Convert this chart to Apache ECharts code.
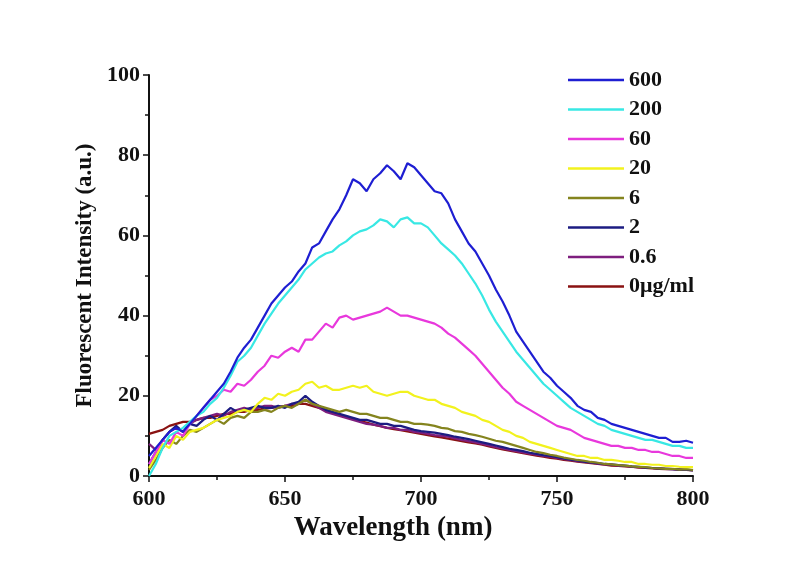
<!DOCTYPE html>
<html>
<head>
<meta charset="utf-8">
<script src="https://cdn.jsdelivr.net/npm/echarts@6/dist/echarts.min.js"></script>
<style>html,body{margin:0;padding:0;background:#fff}#c{width:790px;height:561px}</style>
</head>
<body>
<div id="c"></div>
<script>
const wavelengths = [600,602.5,605,607.5,610,612.5,615,617.5,620,622.5,625,627.5,630,632.5,635,637.5,640,642.5,645,647.5,650,652.5,655,657.5,660,662.5,665,667.5,670,672.5,675,677.5,680,682.5,685,687.5,690,692.5,695,697.5,700,702.5,705,707.5,710,712.5,715,717.5,720,722.5,725,727.5,730,732.5,735,737.5,740,742.5,745,747.5,750,752.5,755,757.5,760,762.5,765,767.5,770,772.5,775,777.5,780,782.5,785,787.5,790,792.5,795,797.5,800];

const seriesNames = ["600","200","60","20","6","2","0.6","0μg/ml"];

const s600 = [5,7,9,11,12,11,13,15,17,19,21,23,26,29.5,32,34,37,40,43,45,47,48.5,51,53,57,58,61,64,66.5,70,74,73,71,74,75.5,77.5,76,74,78,77,75,73,71,70.5,68,64,61,58,56,53,50,46.5,43.5,40,36,33.5,31,28.5,26,24.5,22.5,21,19.5,17.5,16.5,16,14.5,14,13,12.5,12,11.5,11,10.5,10,9.5,9.5,8.5,8.5,8.8,8.3];
const s200 = [0,3,7,10,11,12,13.5,15,16,18,19.5,22,25,28.5,30,32,35,38,40.5,43,45,47,49,51.5,53,54.5,55.5,56,57.5,58.5,60,61,61.5,62.5,64,63.5,62,64,64.5,63,63,62,60,58,56.5,55,53,50.5,48,45,41.5,38.5,36,33.5,31,29,27,25,23,21.5,20,18.5,17,16,15,14,13,12.5,11.5,11,10.5,10,9.5,9,9,8.5,8,7.5,7.5,7,7];
const s60 = [3,6,9,8,11,10,13,15,17,19,20,21.5,21,23,22.5,24,26,27.5,30,29.5,31,32,31,34,34,36,38,37,39.5,40,39,39.5,40,40.5,41,42,41,40,40,39.5,39,38.5,38,37,35.5,34.5,33,31.5,30,28,26,24,22,20.5,18.5,17.5,16.5,15.5,14.5,13.5,12.5,12,11.5,10.5,9.5,9,8.5,8,7.5,7.5,7,7,6.5,6.5,6,6,5.5,5,5,4.5,4.5];
const s20 = [2,5,8,7,10,9,11,11.5,12,13,14,14.5,15,16,16.5,16,18,19.5,19,20.5,20,21,21.5,23,23.5,22,22.5,21.5,21.5,22,22.5,22,22.5,21,20.5,20,20.5,21,21,20,19.5,19,19,18,17.5,17,16,15.5,15,14,13.5,12.5,11.5,11,10,9.5,8.5,8,7.5,7,6.5,6,5.5,5,5,4.5,4.5,4,4,3.8,3.5,3.5,3,3,2.8,2.8,2.5,2.5,2.3,2.2,2.2];
const s6 = [1.5,4,7,9,8,10,11.5,11,12,13,14,13,14.5,15,14.5,16,16,16.5,16,17,17.5,17,18,19,18,17.5,17,16.5,16,16.5,16,15.5,15.5,15,14.5,14.5,14,13.5,13.5,13,13,12.8,12.5,12,11.8,11.2,11,10.5,10.2,9.8,9.3,8.8,8.5,8,7.5,7,6.5,6,5.7,5.3,5,4.6,4.3,4,3.8,3.5,3.3,3,2.9,2.7,2.6,2.4,2.3,2.2,2,1.9,1.8,1.8,1.6,1.7,1.5];
const s2 = [3,6,9,11,12.5,11,13,12.5,14,15,14,15.5,17,16,16.5,17,17.5,17,17,17.5,17,18,18.5,20,18.5,17.5,16.5,16,15.5,15,14.5,14,14,13.5,13,13,12.5,12.5,12,11.5,11.2,11,10.8,10.5,10.2,9.8,9.5,9.2,8.8,8.4,8,7.6,7.2,6.8,6.5,6.2,5.8,5.5,5.2,5,4.7,4.4,4.1,3.9,3.6,3.4,3.2,3,2.9,2.7,2.6,2.4,2.3,2.1,2,1.9,1.8,1.7,1.6,1.6,1.4];
const s06 = [8,6.5,9,11,12,11,13,14,14.5,15,15.5,15,16,16.5,17,16.5,17,17.5,17.5,17,17.5,18,18,19,18,17,16,15.5,15,14.5,14,13.5,13,12.8,12.5,12,12,11.5,11.5,11,10.8,10.5,10.2,10,9.8,9.4,9,8.7,8.4,8,7.6,7.2,6.9,6.5,6.2,5.9,5.6,5.3,5,4.8,4.5,4.2,4,3.7,3.5,3.3,3.1,2.9,2.8,2.6,2.5,2.3,2.2,2.1,2,1.9,1.8,1.7,1.6,1.5,1.5];
const s0 = [10.5,11,11.5,12.5,13,13.5,13.5,14,14.5,14.5,15,15.5,15.5,16,16,16.5,16.5,16.8,17,17.2,17.5,17.5,18,18,17.5,17,16.5,15.8,15.2,14.7,14.2,13.7,13.3,12.8,12.4,12,11.7,11.4,11.1,10.8,10.5,10.2,9.9,9.6,9.3,9,8.7,8.4,8.1,7.8,7.4,7,6.6,6.3,6,5.7,5.4,5.1,4.8,4.5,4.3,4,3.8,3.6,3.4,3.2,3,2.8,2.6,2.5,2.4,2.3,2.1,2,1.9,1.8,1.7,1.7,1.6,1.5,1.4];

const seriesValues = [s600,s200,s60,s20,s6,s2,s06,s0];
const seriesColors = ["#1e1ed2","#38e8e4","#e838dc","#f2f21e","#84841e","#1c1c82","#7e1e7e","#8a1212"];

const xTicks = [600,650,700,750,800];
const yTicks = [0,20,40,60,80,100];

const FONT = "Liberation Serif";
const chart = echarts.init(document.getElementById('c'));
chart.setOption({
  backgroundColor: '#ffffff',
  animation: false,
  grid: {left: 149, right: 97, top: 75, bottom: 85, containLabel: false},
  legend: {
    orient: 'vertical', left: 563, top: 64,
    icon: 'rect', itemWidth: 56, itemHeight: 2.5, itemGap: 7.5,
    textStyle: {fontFamily: FONT, fontWeight: 'bold', fontSize: 22, color: '#111', lineHeight: 22},
    data: seriesNames
  },
  xAxis: {
    type: 'value', min: xTicks[0], max: xTicks[xTicks.length-1], interval: 50,
    name: 'Wavelength (nm)', nameLocation: 'middle', nameGap: 32,
    nameTextStyle: {fontFamily: FONT, fontWeight: 'bold', fontSize: 27, color: '#111', padding: [0, 56, 0, 0]},
    axisLine: {lineStyle: {color: '#111', width: 2}},
    axisTick: {show: true, length: 6, lineStyle: {width: 1.5, color: '#111'}},
    minorTick: {show: true, splitNumber: 2, length: 4, lineStyle: {width: 1.5, color: '#111'}},
    splitLine: {show: false},
    axisLabel: {fontFamily: FONT, fontWeight: 'bold', fontSize: 22, color: '#111', margin: 12}
  },
  yAxis: {
    type: 'value', min: yTicks[0], max: yTicks[yTicks.length-1], interval: 20,
    name: 'Fluorescent Intensity (a.u.)', nameLocation: 'middle', nameGap: 49, nameRotate: 90,
    nameTextStyle: {fontFamily: FONT, fontWeight: 'bold', fontSize: 23, color: '#111'},
    axisLine: {show: true, lineStyle: {color: '#111', width: 2}},
    axisTick: {show: true, length: 6, lineStyle: {width: 1.5, color: '#111'}},
    minorTick: {show: true, splitNumber: 2, length: 4, lineStyle: {width: 1.5, color: '#111'}},
    splitLine: {show: false},
    axisLabel: {fontFamily: FONT, fontWeight: 'bold', fontSize: 22, color: '#111', margin: 9}
  },
  series: seriesNames.map((n, i) => ({
    name: n, type: 'line', symbol: 'none', showSymbol: false,
    lineStyle: {width: 2.2, color: seriesColors[i]},
    itemStyle: {color: seriesColors[i]},
    z: 10 - i,
    data: wavelengths.map((w, k) => [w, seriesValues[i][k]])
  }))
});
</script>
</body>
</html>
